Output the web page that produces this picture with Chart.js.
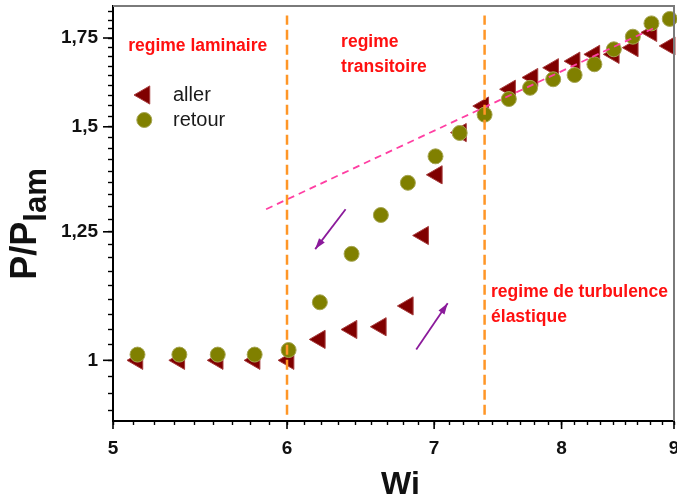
<!DOCTYPE html>
<html><head><meta charset="utf-8">
<script src="https://cdn.jsdelivr.net/npm/chart.js@4.4.1/dist/chart.umd.min.js"></script>
<style>html,body{margin:0;padding:0;background:#fff;}</style>
</head><body>
<canvas id="c" width="677" height="501"></canvas>
<script>
// ---- data ----
const wiAller = [5.13,5.36,5.58,5.80,6.01,6.21,6.42,6.62,6.81,6.92,7.02,7.20,7.37,7.58,7.76,7.93,8.11,8.28,8.45,8.62,8.79,8.96];
const pAller  = [1.0,1.0,1.0,1.0,1.0,1.037,1.055,1.060,1.099,1.242,1.380,1.485,1.555,1.601,1.634,1.662,1.681,1.701,1.701,1.721,1.767,1.726];
const wiRetour = [5.13,5.36,5.58,5.80,6.01,6.21,6.42,6.62,6.81,7.01,7.19,7.38,7.57,7.74,7.93,8.11,8.28,8.45,8.62,8.79,8.96];
const pRetour  = [1.010,1.010,1.010,1.010,1.018,1.106,1.203,1.287,1.361,1.425,1.484,1.532,1.574,1.605,1.629,1.641,1.672,1.716,1.754,1.795,1.809];
const trendWi = [5.87, 8.81];
const trendP  = [1.30, 1.78];
const boundaryWi = [6.0, 7.38];
const boundarySpanP = [0.91, 1.82];
const arrowDownWi = [6.38, 6.18];
const arrowDownP  = [1.300, 1.213];
const arrowUpWi = [6.87, 7.10];
const arrowUpP  = [1.019, 1.104];
const xMajorTicks = [5, 6, 7, 8, 9];
const xTickLabels = ['5', '6', '7', '8', '9'];
const yMajorTicks = [1, 1.25, 1.5, 1.75];
const yTickLabels = ['1', '1,25', '1,5', '1,75'];
const xRange = [5, 9];
const yRange = [0.9, 1.85];
const regimeLabels = [
  {lines: ['regime laminaire'], wi: 5.08, p: 1.725},
  {lines: ['regime', 'transitoire'], wi: 6.35, p: 1.737},
  {lines: ['regime de turbulence', 'élastique'], wi: 7.43, p: 1.126}
];
const seriesNames = ['aller', 'retour'];

// ---- helpers ----
const FONT = "'Liberation Sans', Arial, sans-serif";
Chart.defaults.font.family = FONT;
const toXY = (xs, ys) => xs.map((x, i) => ({x: x, y: ys[i]}));

function minorList(majors, lo, hi) {
  const step = (majors[1] - majors[0]) / 9;
  const out = [];
  for (let k = -40; k <= 60; k++) {
    const v = +(majors[0] + k * step).toFixed(6);
    if (v >= lo - 1e-9 && v <= hi + 1e-9) out.push({value: v, major: k % 9 === 0});
  }
  return out;
}

const TRI_COLOR = '#800000', CIR_COLOR = '#808000';

const datasets = [
  {label: 'b1', data: toXY([boundaryWi[0], boundaryWi[0]], boundarySpanP), showLine: true, borderColor: '#FF9626', borderWidth: 2.5, borderDash: [10, 5], pointRadius: 0, order: 0},
  {label: 'b2', data: toXY([boundaryWi[1], boundaryWi[1]], boundarySpanP), showLine: true, borderColor: '#FF9626', borderWidth: 2.5, borderDash: [10, 5], pointRadius: 0, order: 0},
  {label: 'trend', data: toXY(trendWi, trendP), showLine: true, borderColor: '#FF3FA3', borderWidth: 1.8, borderDash: [7, 5], pointRadius: 0, order: 0},
  {label: 'arrowDown', arrow: true, data: toXY(arrowDownWi, arrowDownP), showLine: true, borderColor: '#8B1A9B', borderWidth: 1.8, pointRadius: 0, order: 0},
  {label: 'arrowUp', arrow: true, data: toXY(arrowUpWi, arrowUpP), showLine: true, borderColor: '#8B1A9B', borderWidth: 1.8, pointRadius: 0, order: 0},
  {label: seriesNames[1], series: true, data: toXY(wiRetour, pRetour), pointStyle: 'circle', pointRadius: 7.5, backgroundColor: CIR_COLOR, borderColor: '#a5a552', borderWidth: 1, order: 1, clip: false},
  {label: seriesNames[0], series: true, data: toXY(wiAller, pAller), pointStyle: 'triangle', pointRotation: -90, pointRadius: 10.5, backgroundColor: TRI_COLOR, borderColor: '#a63c3c', borderWidth: 1, order: 2, clip: false}
];

function drawMarker(ctx, style, r, rot, x, y, fill, stroke) {
  ctx.save();
  ctx.fillStyle = fill; ctx.strokeStyle = stroke; ctx.lineWidth = 1;
  if (Chart.helpers && Chart.helpers.drawPoint) {
    Chart.helpers.drawPoint(ctx, {pointStyle: style, radius: r, rotation: rot, borderWidth: 1}, x, y);
  } else {
    ctx.beginPath();
    if (style === 'circle') ctx.arc(x, y, r, 0, Math.PI * 2);
    else { ctx.moveTo(x - r, y); ctx.lineTo(x + r / 2, y - r * 0.866); ctx.lineTo(x + r / 2, y + r * 0.866); ctx.closePath(); }
    ctx.fill(); ctx.stroke();
  }
  ctx.restore();
}

const decor = {
  id: 'decor',
  afterDatasetsDraw(chart) {
    const ctx = chart.ctx;
    chart.data.datasets.forEach((ds, i) => {
      if (!ds.arrow) return;
      const m = chart.getDatasetMeta(i);
      const a = m.data[0], b = m.data[1];
      const ang = Math.atan2(b.y - a.y, b.x - a.x);
      const L = 11, W = 3.6;
      ctx.save();
      ctx.fillStyle = ds.borderColor;
      ctx.beginPath();
      ctx.moveTo(b.x, b.y);
      ctx.lineTo(b.x - L * Math.cos(ang) + W * Math.sin(ang), b.y - L * Math.sin(ang) - W * Math.cos(ang));
      ctx.lineTo(b.x - L * Math.cos(ang) - W * Math.sin(ang), b.y - L * Math.sin(ang) + W * Math.cos(ang));
      ctx.closePath(); ctx.fill();
      ctx.restore();
    });
  },
  afterDraw(chart) {
    const ctx = chart.ctx, ca = chart.chartArea;
    const xs = chart.scales.x, ys = chart.scales.y;
    ctx.save();
    // frame top/right
    ctx.strokeStyle = '#7a7a7a'; ctx.lineWidth = 2;
    ctx.beginPath();
    ctx.moveTo(ca.left, ca.top); ctx.lineTo(ca.right, ca.top); ctx.lineTo(ca.right, ca.bottom);
    ctx.stroke();
    // longer major tick marks
    ctx.strokeStyle = '#000'; ctx.lineWidth = 1.6;
    ys.ticks.forEach(t => {
      if (!t.major) return;
      const py = ys.getPixelForValue(t.value);
      ctx.beginPath(); ctx.moveTo(ca.left - 10, py); ctx.lineTo(ca.left, py); ctx.stroke();
    });
    xs.ticks.forEach(t => {
      if (!t.major) return;
      const px = xs.getPixelForValue(t.value);
      ctx.beginPath(); ctx.moveTo(px, ca.bottom); ctx.lineTo(px, ca.bottom + 8); ctx.stroke();
    });
    // regime annotations
    ctx.fillStyle = '#FF1010';
    ctx.font = 'bold 17.5px ' + FONT;
    ctx.textBaseline = 'middle'; ctx.textAlign = 'left';
    regimeLabels.forEach(lb => {
      const px = xs.getPixelForValue(lb.wi), py = ys.getPixelForValue(lb.p);
      lb.lines.forEach((s, i) => ctx.fillText(s, px, py + i * 25));
    });
    // legend
    const tri = chart.data.datasets.find(d => d.label === seriesNames[0]);
    const cir = chart.data.datasets.find(d => d.label === seriesNames[1]);
    drawMarker(ctx, 'triangle', tri.pointRadius, -90, ca.left + 31.5, ca.top + 89, tri.backgroundColor, tri.borderColor);
    drawMarker(ctx, 'circle', cir.pointRadius, 0, ca.left + 31.3, ca.top + 114, cir.backgroundColor, cir.borderColor);
    ctx.fillStyle = '#1a1a1a';
    ctx.font = '20px ' + FONT;
    ctx.textBaseline = 'middle';
    ctx.fillText(tri.label, ca.left + 60, ca.top + 89);
    ctx.fillText(cir.label, ca.left + 60, ca.top + 114);
    // axis titles
    ctx.fillStyle = '#111';
    ctx.font = 'bold 32px ' + FONT;
    ctx.textAlign = 'center';
    ctx.fillText('Wi', (ca.left + ca.right) / 2 + 7, 485);
    ctx.translate(29, 224);
    ctx.rotate(-Math.PI / 2);
    ctx.font = 'bold 36px ' + FONT;
    const w1 = ctx.measureText('P/P').width;
    ctx.font = 'bold 31px ' + FONT;
    const w2 = ctx.measureText('lam').width;
    const start = -(w1 + w2) / 2;
    ctx.textAlign = 'left';
    ctx.font = 'bold 36px ' + FONT;
    ctx.fillText('P/P', start, -3);
    ctx.font = 'bold 31px ' + FONT;
    ctx.fillText('lam', start + w1, 8);
    ctx.restore();
  }
};

const xTicks = minorList(xMajorTicks, xRange[0], xRange[1]);
const yTicks = minorList(yMajorTicks, yRange[0], yRange[1]);

new Chart(document.getElementById('c'), {
  type: 'scatter',
  data: {datasets: datasets},
  options: {
    responsive: false,
    animation: false,
    events: [],
    layout: {autoPadding: false, padding: {top: 6, right: 3, left: 0, bottom: 0}},
    elements: {line: {tension: 0}},
    plugins: {legend: {display: false}, tooltip: {enabled: false}},
    scales: {
      x: {
        type: 'logarithmic', position: 'bottom', min: xRange[0], max: xRange[1],
        afterBuildTicks: s => { s.ticks = xTicks.map(t => ({value: t.value, major: t.major})); },
        afterFit: s => { s.height = 80; s.paddingLeft = 0; s.paddingRight = 0; },
        grid: {display: true, drawOnChartArea: false, drawTicks: true, tickLength: 4, tickWidth: 1.4, tickColor: '#000'},
        border: {display: true, color: '#000', width: 2},
        ticks: {
          autoSkip: false, maxRotation: 0, minRotation: 0, padding: 12, color: '#111',
          font: {size: 19, weight: 'bold'},
          callback: (v, i, ticks) => { const k = xMajorTicks.indexOf(ticks[i].value); return k >= 0 ? xTickLabels[k] : ''; }
        }
      },
      y: {
        type: 'logarithmic', position: 'left', min: yRange[0], max: yRange[1],
        afterBuildTicks: s => { s.ticks = yTicks.map(t => ({value: t.value, major: t.major})); },
        afterFit: s => { s.width = 113; s.paddingTop = 0; s.paddingBottom = 0; },
        grid: {display: true, drawOnChartArea: false, drawTicks: true, tickLength: 5, tickWidth: 1.4, tickColor: '#000'},
        border: {display: true, color: '#000', width: 2},
        ticks: {
          autoSkip: false, padding: 10, color: '#111',
          font: {size: 19, weight: 'bold'},
          callback: (v, i, ticks) => { const k = yMajorTicks.indexOf(ticks[i].value); return k >= 0 ? yTickLabels[k] : ''; }
        }
      }
    }
  },
  plugins: [decor]
});
</script>
</body></html>
